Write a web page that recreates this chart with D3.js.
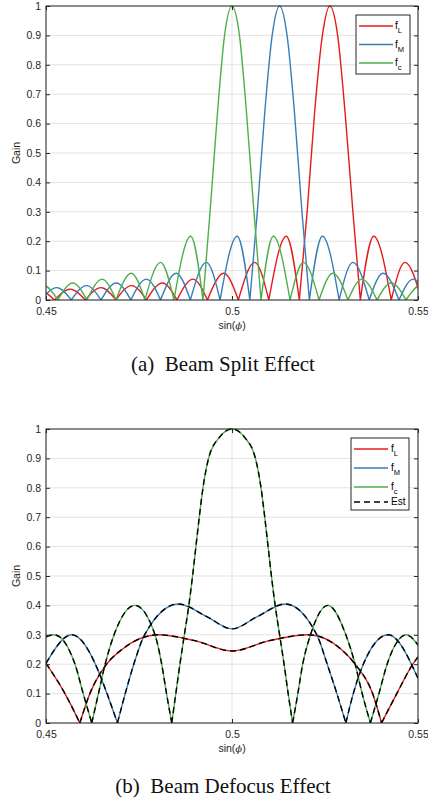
<!DOCTYPE html>
<html>
<head>
<meta charset="utf-8">
<script src="https://cdn.jsdelivr.net/npm/d3@7"></script>
<style>
  body { margin: 0; background: #fff; }
  svg { display: block; }
  text { font-family: "Liberation Sans", Arial, sans-serif; }
</style>
</head>
<body>
<div id="chart"></div>
<script>
// Tick values
const xTicks = [0.45, 0.5, 0.55];
const yTicks = [0, 0.1, 0.2, 0.3, 0.4, 0.5, 0.6, 0.7, 0.8, 0.9, 1];

// Series names / colours
const seriesSubs = ["L", "M", "c"];
const seriesColors = ["#e41a1c", "#377eb8", "#4daf4a"];

// (a) Beam split: [sin(phi), gain] (nulls + lobe peaks)
const splitL = [
  [0.4441,0],[0.4483,0.033],[0.4523,0],[0.4565,0.037],[0.4606,0],[0.4648,0.042],[0.4688,0],[0.4730,0.049],
  [0.4770,0],[0.4813,0.058],[0.4852,0],[0.4895,0.071],[0.4934,0],[0.4978,0.091],[0.5017,0],[0.5061,0.128],
  [0.5099,0],[0.5146,0.217],[0.5181,0],
  [0.5202,0.30],[0.5222,0.637],[0.5243,0.90],[0.5263,1],[0.5284,0.90],[0.5304,0.637],[0.5325,0.30],
  [0.5345,0],[0.5381,0.217],[0.5428,0],[0.5465,0.128],[0.5510,0],[0.5549,0.091],[0.5592,0]
];
const splitM = [
  [0.4407,0],[0.4448,0.037],[0.4487,0],[0.4529,0.042],[0.4568,0],[0.4609,0.049],[0.4648,0],[0.4689,0.058],
  [0.4728,0],[0.4770,0.071],[0.4808,0],[0.4850,0.091],[0.4888,0],[0.4931,0.128],[0.4968,0],[0.5014,0.217],
  [0.5048,0],
  [0.5068,0.30],[0.5088,0.637],[0.5108,0.90],[0.5128,1],[0.5148,0.90],[0.5168,0.637],[0.5188,0.30],
  [0.5208,0],[0.5243,0.217],[0.5288,0],[0.5325,0.128],[0.5369,0],[0.5406,0.091],[0.5449,0],[0.5487,0.071],
  [0.5529,0]
];
const splitC = [
  [0.4454,0],[0.4494,0.049],[0.4532,0],[0.4572,0.058],[0.4610,0],[0.4651,0.071],[0.4688,0],[0.4729,0.091],
  [0.4766,0],[0.4808,0.128],[0.4844,0],[0.4889,0.217],[0.4922,0],
  [0.4941,0.30],[0.4961,0.637],[0.4980,0.90],[0.5000,1],[0.5020,0.90],[0.5039,0.637],[0.5059,0.30],
  [0.5078,0],[0.5111,0.217],[0.5156,0],[0.5192,0.128],[0.5234,0],[0.5271,0.091],[0.5312,0],[0.5349,0.071],
  [0.5390,0],[0.5428,0.058],[0.5468,0],[0.5506,0.049],[0.5546,0]
];

// (b) Beam defocus
const defocusL = [
  [0.4500,0.203],[0.4551,0.100],[0.4591,0],[0.4618,0.100],[0.4663,0.200],[0.4704,0.250],[0.4802,0.300],
  [0.4900,0.280],[0.5000,0.245],[0.5100,0.280],[0.5205,0.300],[0.5294,0.250],[0.5331,0.200],[0.5378,0.100],
  [0.5402,0],[0.5443,0.100],[0.5486,0.200],[0.5500,0.225]
];
const defocusM = [
  [0.4500,0.203],[0.4569,0.300],[0.4692,0],[0.4713,0.100],[0.4736,0.200],[0.4765,0.300],[0.4856,0.405],
  [0.4932,0.362],[0.5000,0.320],[0.5068,0.362],[0.5143,0.405],[0.5228,0.300],[0.5256,0.200],[0.5282,0.100],
  [0.5306,0],[0.5326,0.100],[0.5353,0.200],[0.5420,0.300],[0.5500,0.152]
];
const defocusC = [
  [0.4500,0.293],[0.4522,0.300],[0.4578,0.200],[0.4600,0.100],[0.4623,0],
  [0.4641,0.100],[0.4659,0.200],[0.4683,0.300],[0.4739,0.400],[0.4793,0.300],[0.4811,0.200],[0.4824,0.100],
  [0.4838,0],
  [0.4849,0.1],[0.4860,0.2],[0.4872,0.3],[0.4884,0.4],[0.4894,0.5],[0.4903,0.6],[0.4912,0.7],[0.4922,0.8],
  [0.4937,0.9],[0.4965,0.97],[0.5000,1],[0.5035,0.97],[0.5063,0.9],[0.5078,0.8],[0.5088,0.7],[0.5097,0.6],
  [0.5106,0.5],[0.5116,0.4],[0.5128,0.3],[0.5140,0.2],[0.5151,0.1],[0.5163,0],
  [0.5177,0.1],[0.5190,0.2],[0.5211,0.3],[0.5258,0.4],[0.5306,0.3],[0.5331,0.2],[0.5350,0.1],[0.5372,0],
  [0.5395,0.1],[0.5417,0.2],[0.5469,0.3],[0.5500,0.265]
];

const W = 428, H = 802;
const left = 46, right = 418;
const axisColor = "#262626";

const svg = d3.select("#chart").append("svg")
    .attr("width", W)
    .attr("height", H);

// split a curve into lobes at its nulls so each null stays a sharp V
function lobes(pts) {
  const segs = [];
  let cur = [];
  pts.forEach(p => {
    cur.push(p);
    if (p[1] === 0 && cur.length > 1) { segs.push(cur); cur = [p]; }
  });
  if (cur.length > 1) segs.push(cur);
  return segs;
}

function drawPanel(id, top, bottom, series, withEst, legend, caption) {
  const x = d3.scaleLinear().domain([0.45, 0.55]).range([left, right]);
  const y = d3.scaleLinear().domain([0, 1]).range([bottom, top]);
  const g = svg.append("g").attr("class", "panel-" + id);

  // grid
  g.append("g").selectAll("line.hg").data(yTicks).join("line")
      .attr("x1", left).attr("x2", right)
      .attr("y1", d => y(d)).attr("y2", d => y(d))
      .attr("stroke", "#e3e3e3").attr("stroke-width", 1);
  g.append("g").selectAll("line.vg").data(xTicks).join("line")
      .attr("x1", d => x(d)).attr("x2", d => x(d))
      .attr("y1", top).attr("y2", bottom)
      .attr("stroke", "#e3e3e3").attr("stroke-width", 1);

  // clip
  svg.append("defs").append("clipPath").attr("id", "clip-" + id)
    .append("rect").attr("x", left).attr("y", top - 2)
    .attr("width", right - left).attr("height", bottom - top + 2);

  const line = d3.line()
      .x(d => x(d[0]))
      .y(d => y(d[1]))
      .curve(d3.curveMonotoneX);

  const plot = g.append("g").attr("clip-path", `url(#clip-${id})`);
  series.forEach((s, i) => {
    plot.append("path")
      .attr("d", lobes(s).map(line).join(""))
      .attr("fill", "none")
      .attr("stroke", seriesColors[i])
      .attr("stroke-width", 1.4);
  });
  if (withEst) {
    series.forEach(s => {
      plot.append("path")
        .attr("d", lobes(s).map(line).join(""))
        .attr("fill", "none")
        .attr("stroke", "#000")
        .attr("stroke-width", 1.4)
        .attr("stroke-dasharray", "6,4");
    });
  }

  // axes
  const ax = g.append("g").attr("class", "axes");
  const styleAxis = sel => {
    sel.selectAll("path.domain").remove();
    sel.selectAll("line").attr("stroke", axisColor);
    sel.selectAll("text").attr("fill", axisColor).style("font-size", "10.5px")
      .style("font-family", "'Liberation Sans', Arial, sans-serif");
  };
  ax.append("g").attr("transform", `translate(${left},0)`)
    .call(d3.axisLeft(y).tickValues(yTicks).tickFormat(d3.format("~g"))
      .tickSizeInner(-4).tickSizeOuter(0).tickPadding(5))
    .call(styleAxis);
  ax.append("g").attr("transform", `translate(${right},0)`)
    .call(d3.axisRight(y).tickValues(yTicks).tickFormat("")
      .tickSizeInner(-4).tickSizeOuter(0))
    .call(styleAxis);
  ax.append("g").attr("transform", `translate(0,${bottom})`)
    .call(d3.axisBottom(x).tickValues(xTicks).tickFormat(d3.format("~g"))
      .tickSizeInner(-4).tickSizeOuter(0).tickPadding(8))
    .call(styleAxis);
  ax.append("g").attr("transform", `translate(0,${top})`)
    .call(d3.axisTop(x).tickValues(xTicks).tickFormat("")
      .tickSizeInner(-4).tickSizeOuter(0))
    .call(styleAxis);
  ax.append("rect")
    .attr("x", left).attr("y", top)
    .attr("width", right - left).attr("height", bottom - top)
    .attr("fill", "none").attr("stroke", axisColor).attr("stroke-width", 1);

  // labels
  g.append("text")
    .attr("transform", `translate(20,${(top + bottom) / 2}) rotate(-90)`)
    .attr("text-anchor", "middle")
    .attr("fill", axisColor)
    .style("font-size", "10.5px")
    .text("Gain");

  const xl = g.append("text")
    .attr("x", x(0.5)).attr("y", bottom + 29)
    .attr("text-anchor", "middle")
    .attr("fill", axisColor)
    .style("font-size", "10.5px");
  xl.append("tspan").text("sin(");
  xl.append("tspan").style("font-style", "italic")
    .style("font-family", "'DejaVu Serif', serif").style("font-size", "10px").text("\u03D5");
  xl.append("tspan").text(")");

  // legend
  const lg = g.append("g");
  lg.append("rect")
    .attr("x", legend.x).attr("y", legend.y)
    .attr("width", legend.w).attr("height", legend.h)
    .attr("fill", "#fff").attr("stroke", axisColor).attr("stroke-width", 1);
  const rows = seriesSubs.map((s, i) => ({ sub: s, color: seriesColors[i], dash: null }));
  if (withEst) rows.push({ sub: null, color: "#000", dash: "6,4" });
  rows.forEach((r, i) => {
    const ry = legend.rows[i];
    lg.append("line")
      .attr("x1", legend.lx0).attr("x2", legend.lx1)
      .attr("y1", ry).attr("y2", ry)
      .attr("stroke", r.color).attr("stroke-width", 1.4)
      .attr("stroke-dasharray", r.dash);
    const t = lg.append("text")
      .attr("x", legend.tx).attr("y", ry + 3)
      .attr("fill", "#000")
      .style("font-size", "10px");
    if (r.sub) {
      t.append("tspan").text("f");
      t.append("tspan").attr("dy", 4).style("font-size", "7.5px").text(r.sub);
    } else {
      t.text("Est");
    }
  });

  // caption
  svg.append("text")
    .attr("x", 223).attr("y", caption.y)
    .attr("text-anchor", "middle")
    .style("font-family", "'Liberation Serif', 'Times New Roman', serif")
    .style("font-size", "21px")
    .attr("fill", "#111")
    .attr("xml:space", "preserve")
    .text(caption.text);
}

drawPanel("a", 6, 300, [splitL, splitM, splitC], false,
  { x: 356, y: 15, w: 54, h: 59, rows: [26, 44.5, 63], lx0: 359, lx1: 393, tx: 395 },
  { y: 371, text: "(a)  Beam Split Effect" });

drawPanel("b", 429, 723, [defocusL, defocusM, defocusC], true,
  { x: 351, y: 438, w: 58, h: 72, rows: [449, 468, 487, 502], lx0: 354, lx1: 388, tx: 391 },
  { y: 793, text: "(b)  Beam Defocus Effect" });
</script>
</body>
</html>
